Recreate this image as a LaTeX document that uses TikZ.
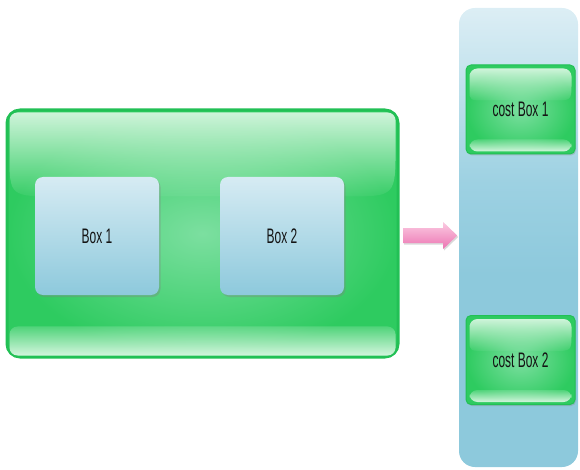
\documentclass[tikz,border=0pt]{standalone}
\usepackage{fontspec}
\setmainfont{Liberation Sans}
\usetikzlibrary{calc,fadings,shadows}

\definecolor{leafdark}{HTML}{22C055}
\definecolor{leaf}{HTML}{2ECB60}
\definecolor{leaflight}{HTML}{7CDFA0}
\definecolor{leafshine}{HTML}{DDF8E5}
\definecolor{skytop}{HTML}{D6EBF3}
\definecolor{skymid}{HTML}{9DD1E2}
\definecolor{sky}{HTML}{8DC9DC}
\definecolor{pinktop}{HTML}{FBCBE2}
\definecolor{pink}{HTML}{EC74B2}

\tikzfading[name=shinefade, top color=transparent!8, bottom color=transparent!95]
\tikzfading[name=bandfade, top color=transparent!80, bottom color=transparent!5]

% column colour: light only near the top (path spans 25bp..75bp)
\pgfdeclareverticalshading{columnshade}{100bp}{color(0bp)=(sky); color(46bp)=(sky);
  color(56bp)=(skymid); color(75bp)=(skytop!85!white); color(100bp)=(skytop!85!white)}

\tikzset{
  label/.style={font=\fontsize{21}{23}\selectfont, text=black!92},
  greenbox/.style={rounded corners=13pt, draw=leafdark, line width=3pt,
    inner color=leaflight, outer color=leaf},
  costbox/.style={rounded corners=5pt, draw=leafdark, line width=1pt,
    inner color=leaflight, outer color=leaf,
    drop shadow={shadow xshift=1pt, shadow yshift=-1.5pt, opacity=.3}},
  bluebox/.style={rounded corners=8pt, top color=skytop, middle color=skymid,
    bottom color=sky, label,
    drop shadow={shadow xshift=1.5pt, shadow yshift=-2pt, opacity=.35}},
  panel/.style={rounded corners=16pt, shading=columnshade},
  glosstop/.style={leafshine, path fading=shinefade},
  glossbottom/.style={leafshine, path fading=bandfade},
}

\newcommand\narrowtext[1]{\scalebox{.57}[1]{#1}}

% glossy highlight: node, depth of top shine, its lower corner radius, bottom band
\newcommand\gloss[4]{%
  \fill[glosstop, rounded corners=8pt] ($(#1.north)+(0,4)$)
    -- ($(#1.north west)+(4,4)$) -- ($(#1.north west)+(4,#2-#3)$) [sharp corners]
    .. controls ($(#1.north west)+(4,#2)$) .. ($(#1.north west)+(4+#3,#2)$)
    -- ($(#1.north east)+(-4-#3,#2)$)
    .. controls ($(#1.north east)+(-4,#2)$) .. ($(#1.north east)+(-4,#2-#3)$)
    [rounded corners=8pt] -- ($(#1.north east)+(-4,4)$) -- cycle;
  \fill[glossbottom, rounded corners=8pt] ($(#1.south west)+(4,-#4)$)
    rectangle ($(#1.south east)+(-4,-3)$);
}

\begin{document}
\begin{tikzpicture}[x=1pt, y=-1pt]
  \useasboundingbox (0,0) rectangle (580,470);

  % left group
  \node[greenbox, minimum width=391pt, minimum height=247pt] (main) at (202.5,233.5) {};
  \gloss{main}{88}{50}{32}
  \node[bluebox, minimum width=124pt, minimum height=118pt] (box1) at (97,236) {\narrowtext{Box 1}};
  \node[bluebox, minimum width=124pt, minimum height=118pt] (box2) at (282,236) {\narrowtext{Box 2}};

  % right column
  \shade[panel] (459,8) rectangle (578,467);
  \node[minimum width=119pt, minimum height=459pt] (col) at (518.5,237.5) {};
  \node[costbox, minimum width=109pt, minimum height=89pt] (cost1) at (520.5,109.5) {};
  \gloss{cost1}{36}{18}{15}
  \node[label] at (cost1) {\narrowtext{cost Box 1}};
  \node[costbox, minimum width=109pt, minimum height=89pt] (cost2) at (520.5,360) {};
  \gloss{cost2}{36}{18}{15}
  \node[label] at (cost2) {\narrowtext{cost Box 2}};

  % block arrow between them
  \coordinate (arr) at ($(main.east)!.5!(col.west)$);
  \fill[black, opacity=.15, shift={($(arr)+(1,1.5)$)}] (-26,-7.5) -- (14,-7.5) -- (14,-13.5)
    -- (28,0) -- (14,13.5) -- (14,7.5) -- (-26,7.5) -- cycle;
  \shade[top color=pinktop, bottom color=pink, shift={(arr)}] (-26,-7.5) -- (14,-7.5) -- (14,-13.5)
    -- (28,0) -- (14,13.5) -- (14,7.5) -- (-26,7.5) -- cycle;
\end{tikzpicture}
\end{document}
